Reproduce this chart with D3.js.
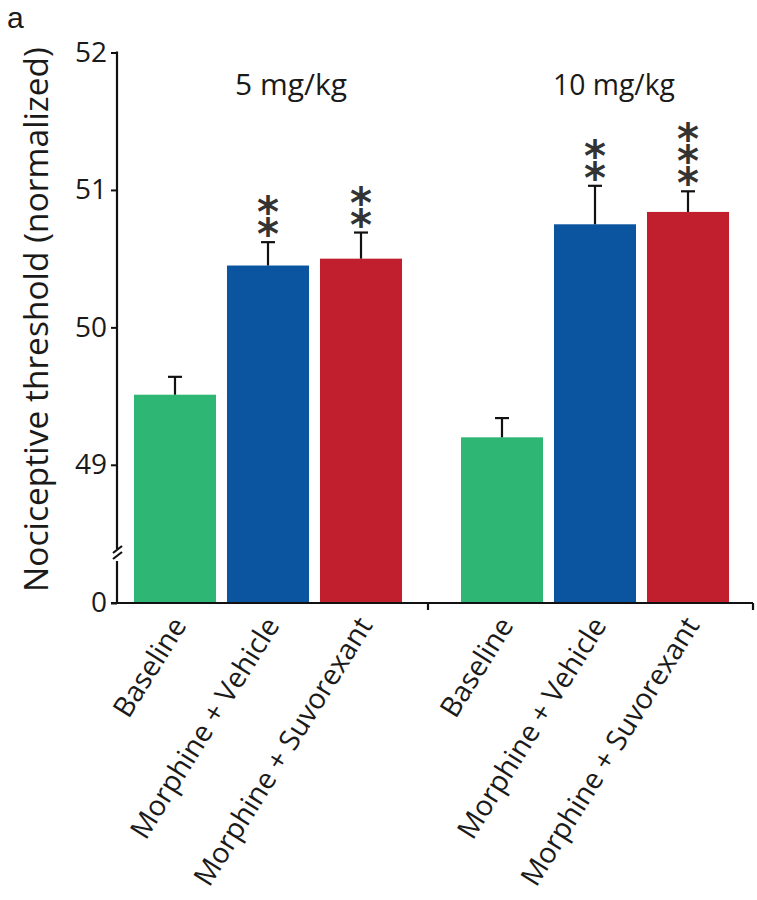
<!DOCTYPE html>
<html>
<head>
<meta charset="utf-8">
<script src="https://cdn.jsdelivr.net/npm/d3@7"></script>
<style>
  html, body { margin: 0; padding: 0; background: #fff; }
  svg { display: block; }
  text { font-family: "Open Sans", "Noto Sans", sans-serif; fill: #1a1a1a; }
</style>
</head>
<body>
<svg id="chart" width="757" height="900"></svg>
<script>
// ---------------- data ----------------
const groups = ["5 mg/kg", "10 mg/kg"];
const conditions = ["Baseline", "Morphine + Vehicle", "Morphine + Suvorexant"];
const values5mg = [49.51, 50.45, 50.50];
const errors5mg = [0.13, 0.17, 0.19];
const stars5mg = ["", "**", "**"];
const values10mg = [49.20, 50.75, 50.84];
const errors10mg = [0.14, 0.28, 0.15];
const stars10mg = ["", "**", "***"];
const yTicks = [0, 49, 50, 51, 52];
const yTitle = "Nociceptive threshold (normalized)";
const panelLabel = "a";

const colors = ["#2eb674", "#0b55a0", "#c11f2e"];

const rows = [];
groups.forEach((g, gi) => {
  const vals = gi === 0 ? values5mg : values10mg;
  const errs = gi === 0 ? errors5mg : errors10mg;
  const st = gi === 0 ? stars5mg : stars10mg;
  conditions.forEach((c, ci) => rows.push({ group: g, cond: c, ci, value: vals[ci], err: errs[ci], stars: st[ci] }));
});

// ---------------- layout ----------------
const svg = d3.select("#chart");
const axisX = 117, baseY = 603, topY = 52.5, rightX = 753;

// broken y scale: 0 at baseline, 48.3 at the break, 52 at top
const y = d3.scaleLinear().domain([0, 48.3, 52]).range([baseY, 561, topY]);

const x0 = d3.scaleBand().domain(groups).range([104.5, 758.5]);
const x1 = d3.scaleBand().domain(conditions).range([0, x0.bandwidth()])
  .paddingInner(0.118).paddingOuter(0.317);
const cxOf = d => x0(d.group) + x1(d.cond) + x1.bandwidth() / 2;

function fit(sel, target) {
  const w = sel.node().getComputedTextLength();
  const fs = parseFloat(sel.attr("font-size"));
  sel.attr("font-size", (fs * target / w).toFixed(2));
}

// ---------------- bars ----------------
const g = svg.append("g");
g.selectAll("rect.bar").data(rows).join("rect")
  .attr("class", "bar")
  .attr("x", d => x0(d.group) + x1(d.cond))
  .attr("width", x1.bandwidth())
  .attr("y", d => y(d.value))
  .attr("height", d => baseY - y(d.value))
  .attr("fill", d => colors[d.ci]);

// error bars (upper only)
const eb = g.selectAll("g.err").data(rows).join("g").attr("class", "err")
  .attr("stroke", "#111").attr("stroke-width", 2.2);
eb.append("line")
  .attr("x1", cxOf).attr("x2", cxOf)
  .attr("y1", d => y(d.value))
  .attr("y2", d => y(d.value + d.err));
eb.append("line")
  .attr("x1", d => cxOf(d) - 7)
  .attr("x2", d => cxOf(d) + 7)
  .attr("y1", d => y(d.value + d.err))
  .attr("y2", d => y(d.value + d.err));

// significance stars: one text per bar, stacked vertically with upright glyphs
const starFs = 42, starStep = 22;
const starProbe = g.append("text").attr("font-size", starFs).attr("font-weight", "bold")
  .style("font-family", "'DejaVu Sans', sans-serif").text("*");
const starAdv = starProbe.node().getComputedTextLength();
starProbe.remove();
rows.filter(d => d.stars.length > 0).forEach(d => {
  const cx = cxOf(d);
  const cyBottom = y(d.value + d.err) - 16;
  g.append("text")
    .attr("transform", `translate(${cx - starAdv / 2},${cyBottom + 0.55 * starFs}) rotate(-90)`)
    .attr("rotate", 90)
    .attr("font-size", starFs)
    .attr("font-weight", "bold")
    .attr("letter-spacing", starStep - starAdv)
    .style("font-family", "'DejaVu Sans', sans-serif")
    .style("fill", "#333")
    .text(d.stars);
});

// ---------------- y axis ----------------
const yAxis = d3.axisLeft(y).tickValues(yTicks).tickSize(6).tickPadding(4).tickFormat(d3.format("d"));
const ya = svg.append("g").attr("transform", `translate(${axisX},0)`).call(yAxis);
ya.select(".domain").remove();
ya.selectAll(".tick line").attr("stroke", "#111").attr("stroke-width", 2);
ya.selectAll(".tick text").attr("font-size", 28).attr("font-family", null).style("fill", "#1a1a1a");

// axis line with break
const axisLine = svg.append("g").attr("stroke", "#111").attr("stroke-width", 2.2).attr("fill", "none");
axisLine.append("line").attr("x1", axisX).attr("x2", axisX).attr("y1", topY - 1).attr("y2", 549);
axisLine.append("line").attr("x1", axisX).attr("x2", axisX).attr("y1", 561).attr("y2", baseY);
axisLine.append("line").attr("x1", axisX - 4).attr("x2", axisX + 5).attr("y1", 553).attr("y2", 546);
axisLine.append("line").attr("x1", axisX - 4).attr("x2", axisX + 5).attr("y1", 559).attr("y2", 552);

// ---------------- x axis ----------------
axisLine.append("line").attr("x1", axisX - 6).attr("x2", rightX).attr("y1", baseY).attr("y2", baseY);
axisLine.append("line").attr("x1", rightX).attr("x2", rightX).attr("y1", baseY).attr("y2", baseY + 7);
axisLine.append("line").attr("x1", 428).attr("x2", 428).attr("y1", baseY).attr("y2", baseY + 7);

// rotated category labels
const labelAngle = -58;
const lab = svg.append("g");
rows.forEach(d => {
  lab.append("text")
    .attr("transform", `translate(${cxOf(d) + 4},${baseY + 17}) rotate(${labelAngle})`)
    .attr("text-anchor", "end")
    .attr("dy", "0.35em")
    .attr("font-size", 22)
    .text(d.cond);
});
// fit label size to the reference length
const probe = lab.append("text").attr("font-size", 22).text(conditions[2]);
const lw = probe.node().getComputedTextLength();
probe.remove();
lab.selectAll("text").attr("font-size", (22 * 310 / lw).toFixed(2));

// group labels
groups.forEach((gr, i) => {
  const t = svg.append("text")
    .attr("x", x0(gr) + x0.bandwidth() / 2 + (i === 0 ? 23 : 19))
    .attr("y", 95)
    .attr("text-anchor", "middle")
    .attr("font-size", 24)
    .text(gr);
  fit(t, i === 0 ? 112 : 122);
});

// y title
const yt = svg.append("text")
  .attr("transform", `translate(48,${(47 + 592) / 2}) rotate(-90)`)
  .attr("text-anchor", "middle")
  .attr("font-size", 28)
  .text(yTitle);
fit(yt, 545);

// panel label
svg.append("text").attr("x", 7).attr("y", 28).attr("font-size", 30)
  .style("font-family", "'Liberation Sans', sans-serif").text(panelLabel);
</script>
</body>
</html>
